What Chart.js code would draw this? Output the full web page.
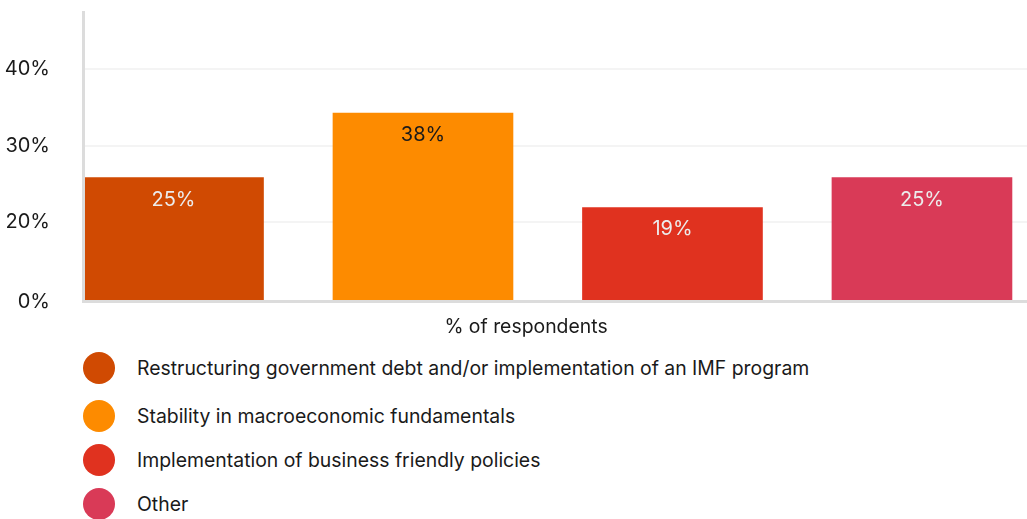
<!DOCTYPE html>
<html>
<head>
<meta charset="utf-8">
<title>% of respondents</title>
<script src="https://cdn.jsdelivr.net/npm/chart.js@4/dist/chart.umd.min.js"></script>
<style>
  body { margin: 0; background: #fff; overflow: hidden; font-family: Inter, "Liberation Sans", Arial, sans-serif; color: #1a1a1a; }
  #wrap { position: relative; width: 1027px; height: 340px; }
  #legend { list-style: none; margin: 0; padding: 0; position: absolute; left: 83px; top: 346px; }
  #legend li { display: flex; align-items: center; height: 44px; font-size: 19.4px; }
  #legend li:first-child { margin-bottom: 4px; }
  #legend .dot { width: 32px; height: 32px; border-radius: 50%; margin-right: 22px; flex: none; }
</style>
</head>
<body>
<div id="wrap"><canvas id="chart"></canvas></div>
<ul id="legend"></ul>
<script>
const categories = [
  'Restructuring government debt and/or implementation of an IMF program',
  'Stability in macroeconomic fundamentals',
  'Implementation of business friendly policies',
  'Other'
];
const shares = [25, 38, 19, 25];
const barColors = ['#D04A02', '#FD8B00', '#E0321F', '#D93A57'];
const valueColors = ['#ececec', '#1a1a1a', '#ececec', '#ececec'];
const yTickValues = [0, 16.0, 31.4, 46.9];
const yTickLabels = ['0%', '20%', '30%', '40%'];
const xTitle = '% of respondents';

const FONT = 'Inter, "Liberation Sans", Arial, sans-serif';

// value text inside the top of each bar
const barValues = {
  id: 'barValues',
  afterDatasetsDraw(chart) {
    const ctx = chart.ctx;
    ctx.save();
    ctx.font = '20px ' + FONT;
    ctx.textAlign = 'center';
    ctx.textBaseline = 'middle';
    chart.data.datasets.forEach((ds, i) => {
      const bar = chart.getDatasetMeta(i).data[0];
      ctx.fillStyle = valueColors[i];
      ctx.fillText(shares[i] + '%', bar.x, bar.y + 22);
    });
    ctx.restore();
  }
};

new Chart(document.getElementById('chart'), {
  type: 'bar',
  data: {
    datasets: categories.map((name, i) => ({
      label: name,
      data: [{ x: i, y: shares[i] }],
      backgroundColor: barColors[i],
      grouped: false,
      barThickness: 180
    }))
  },
  options: {
    responsive: true,
    maintainAspectRatio: false,
    animation: false,
    // title box runs past the right edge so the axis title sits a bit right of centre
    layout: { padding: { top: 12, left: 0, right: -25, bottom: 0 } },
    scales: {
      x: {
        type: 'linear',
        offset: false,
        min: -0.3627,
        max: 3.421,
        ticks: { display: false },
        grid: { display: false, drawTicks: false },
        border: { display: true, color: '#dcdcdc', width: 3, z: 1 }
      },
      y: {
        min: 0,
        max: 58.4,
        afterBuildTicks: scale => { scale.ticks = yTickValues.map(v => ({ value: v })); },
        afterFit: scale => {
          scale.width = 83;
          scale.paddingTop = 0;
          scale.paddingBottom = 0;
        },
        ticks: {
          padding: 33,
          color: '#1a1a1a',
          font: { family: FONT, size: 20 },
          callback: (v, i) => yTickLabels[i]
        },
        grid: { color: '#f4f4f4', lineWidth: 2, drawTicks: false },
        border: { display: true, color: '#dcdcdc', width: 3, z: 1 }
      }
    },
    plugins: {
      legend: { display: false },
      tooltip: { enabled: false },
      title: {
        display: true,
        position: 'bottom',
        text: xTitle,
        color: '#1a1a1a',
        font: { family: FONT, size: 19.4, weight: 'normal', lineHeight: 1.2 },
        padding: { top: 14, bottom: 1 }
      }
    }
  },
  plugins: [barValues]
});

const legend = document.getElementById('legend');
categories.forEach((name, i) => {
  const li = document.createElement('li');
  const dot = document.createElement('span');
  dot.className = 'dot';
  dot.style.background = barColors[i];
  li.appendChild(dot);
  li.appendChild(document.createTextNode(name));
  legend.appendChild(li);
});
</script>
</body>
</html>
